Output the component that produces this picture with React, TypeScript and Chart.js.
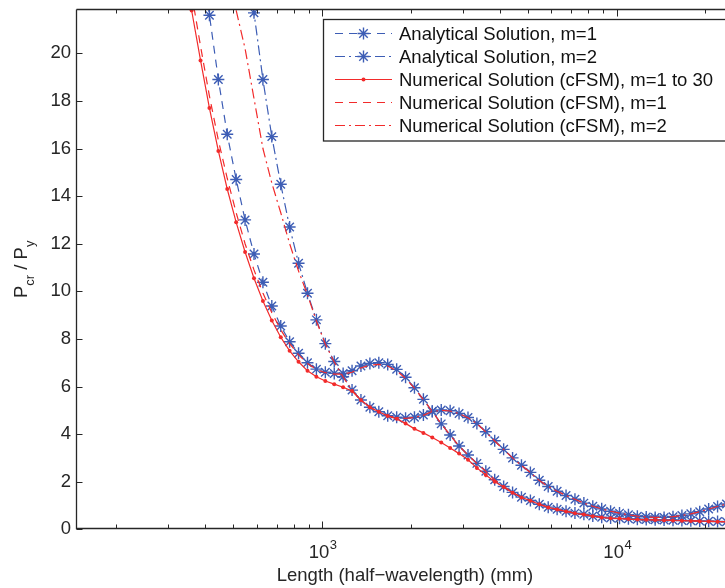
import { useEffect, useRef } from 'react';
import { Chart, registerables } from 'chart.js';

Chart.register(...registerables);

// Half-wavelength lengths (mm) – common sampling grid of the curves
const lengths = [
  360.5, 386.5, 414.3, 444.2, 476.1, 510.6, 547.4, 586.9, 629.3, 674.6,
  723.4, 775.4, 831.4, 891.6, 955.9, 1025, 1099, 1178, 1263, 1354,
  1452, 1557, 1669, 1790, 1919, 2057, 2206, 2365, 2536, 2719,
  2915, 3126, 3351, 3593, 3852, 4130, 4429, 4748, 5091, 5458,
  5852, 6274, 6727, 7212, 7733, 8291, 8889, 9530, 10217, 10954,
  11745, 12589, 13500, 14474, 15518, 16638, 17839, 19126, 20507, 21986,
  23572, 25273,
];

const analyticalM1 = [
  null, 24.4, 21.6, 18.9, 16.6, 14.7, 13.0, 11.57, 10.38, 9.38,
  8.54, 7.88, 7.4, 7.0, 6.73, 6.6, 6.55, 6.55, 6.66, 6.86,
  6.97, 7.0, 6.93, 6.72, 6.39, 5.95, 5.46, 4.95, 4.43, 3.96,
  3.5, 3.12, 2.77, 2.44, 2.08, 1.8, 1.55, 1.35, 1.21, 1.05,
  0.93, 0.84, 0.76, 0.68, 0.63, 0.56, 0.51, 0.47, 0.46, 0.44,
  0.42, 0.41, 0.4, 0.39, 0.38, 0.37, 0.36, 0.35, 0.34, 0.33,
  0.32, 0.31,
];

const analyticalM2 = [
  null, null, null, null, null, null, 24.5, 21.7, 18.9, 16.5,
  14.5, 12.7, 11.18, 9.92, 8.8, 7.8, 7.05, 6.41, 5.85, 5.43,
  5.13, 4.94, 4.77, 4.71, 4.67, 4.71, 4.8, 4.96, 5.01, 4.98,
  4.87, 4.7, 4.45, 4.1, 3.72, 3.36, 3.0, 2.69, 2.39, 2.06,
  1.8, 1.6, 1.42, 1.26, 1.1, 0.97, 0.86, 0.76, 0.68, 0.61,
  0.55, 0.52, 0.5, 0.5, 0.53, 0.58, 0.65, 0.74, 0.85, 0.96,
  1.06, 1.18,
];

const numericalAll = [
  21.8, 19.7, 17.7, 15.9, 14.3, 12.9, 11.65, 10.55, 9.59, 8.77,
  8.07, 7.5, 7.04, 6.66, 6.41, 6.23, 6.1, 5.97, 5.81, 5.43,
  5.13, 4.94, 4.76, 4.64, 4.45, 4.22, 4.05, 3.86, 3.65, 3.42,
  3.18, 2.92, 2.58, 2.28, 2.0, 1.78, 1.54, 1.34, 1.2, 1.05,
  0.92, 0.83, 0.75, 0.67, 0.62, 0.55, 0.5, 0.46, 0.45, 0.43,
  0.41, 0.4, 0.39, 0.38, 0.37, 0.36, 0.35, 0.34, 0.33, 0.32,
  0.32, 0.31,
];

const numericalM1 = [
  22.5, 20.3, 18.2, 16.35, 14.75, 13.3, 12.0, 10.9, 9.93, 9.1,
  8.38, 7.8, 7.33, 6.97, 6.72, 6.58, 6.52, 6.52, 6.6, 6.78,
  6.9, 6.93, 6.86, 6.66, 6.34, 5.93, 5.45, 4.95, 4.43, 3.96,
  3.5, 3.12, 2.77, 2.44, 2.08, 1.8, 1.55, 1.35, 1.21, 1.05,
  0.93, 0.84, 0.76, 0.68, 0.63, 0.56, 0.51, 0.47, 0.46, 0.44,
  0.42, 0.41, 0.4, 0.39, 0.38, 0.37, 0.36, 0.35, 0.34, 0.33,
  0.32, 0.31,
];

const numericalM2 = [
  null, null, null, null, 24.3, 21.8, 20.2, 18.1, 16.0, 14.55,
  13.3, 12.0, 10.85, 9.85, 8.75, 7.78, 7.03, 6.4, 5.84, 5.42,
  5.12, 4.93, 4.76, 4.7, 4.66, 4.7, 4.79, 4.95, 5.0, 4.97,
  4.86, 4.69, 4.44, 4.09, 3.71, 3.35, 3.0, 2.68, 2.38, 2.05,
  1.8, 1.6, 1.42, 1.26, 1.1, 0.97, 0.86, 0.76, 0.68, 0.61,
  0.55, 0.52, 0.5, 0.5, 0.53, 0.58, 0.65, 0.74, 0.85, 0.96,
  1.06, 1.18,
];

const seriesNames = [
  'Analytical Solution, m=1',
  'Analytical Solution, m=2',
  'Numerical Solution (cFSM), m=1 to 30',
  'Numerical Solution (cFSM), m=1',
  'Numerical Solution (cFSM), m=2',
];

const yTicks = [0, 2, 4, 6, 8, 10, 12, 14, 16, 18, 20];
const xMinorTicks = [200, 300, 400, 500, 600, 700, 800, 900, 2000, 3000, 4000, 5000, 6000, 7000, 8000, 9000, 20000];
const xMajorTicks = [1000, 10000];
const xMajorExponents = ['3', '4'];

const X_MIN = 146;
const X_MAX = 25000;
const Y_MIN = 0;
const Y_MAX = 21.85;

const BLUE = '#3d5db5';
const RED = '#f22b2b';
const AXIS = '#262626';
const FONT = '"Liberation Sans", Arial, Helvetica, sans-serif';

const DASH = [8, 6];
const DASHDOT = [10, 4, 2, 4];

const styles = [
  { color: BLUE, dash: DASH, point: 'star', radius: 6 },
  { color: BLUE, dash: DASHDOT, point: 'star', radius: 6 },
  { color: RED, dash: [] as number[], point: 'circle', radius: 2 },
  { color: RED, dash: DASH, point: 'none', radius: 0 },
  { color: RED, dash: DASHDOT, point: 'none', radius: 0 },
];

const seriesValues = [analyticalM1, analyticalM2, numericalAll, numericalM1, numericalM2];

function toPoints(vals: (number | null)[]) {
  const pts: { x: number; y: number }[] = [];
  vals.forEach((v, i) => {
    if (v !== null && v !== undefined) pts.push({ x: lengths[i], y: v });
  });
  return pts;
}

function drawMarker(ctx: CanvasRenderingContext2D, kind: string, x: number, y: number, r: number, color: string) {
  ctx.save();
  ctx.setLineDash([]);
  if (kind === 'star') {
    ctx.strokeStyle = color;
    ctx.lineWidth = 1.4;
    ctx.beginPath();
    for (let k = 0; k < 4; k++) {
      const ang = (k * Math.PI) / 4;
      const dx = Math.cos(ang) * r;
      const dy = Math.sin(ang) * r;
      ctx.moveTo(x - dx, y - dy);
      ctx.lineTo(x + dx, y + dy);
    }
    ctx.stroke();
  } else if (kind === 'circle') {
    ctx.fillStyle = color;
    ctx.beginPath();
    ctx.arc(x, y, r, 0, Math.PI * 2);
    ctx.fill();
  }
  ctx.restore();
}

const decorPlugin = {
  id: 'decor',
  afterDraw(chart: any) {
    const { ctx, chartArea: a, scales } = chart;
    const xs = scales.x;
    const ys = scales.y;
    ctx.save();
    ctx.setLineDash([]);
    ctx.strokeStyle = AXIS;
    ctx.lineWidth = 1.3;

    // axes box
    const L = Math.round(a.left) + 0.5;
    const B = Math.round(a.bottom) - 0.5;
    const T = Math.round(a.top) + 0.5;
    const R = a.right;
    ctx.beginPath();
    ctx.moveTo(L, T);
    ctx.lineTo(R, T);
    ctx.moveTo(L, T);
    ctx.lineTo(L, B);
    ctx.lineTo(R, B);
    ctx.moveTo(R, T);
    ctx.lineTo(R, B);
    ctx.stroke();

    // ticks (inward)
    ctx.lineWidth = 1;
    ctx.beginPath();
    for (const v of yTicks) {
      const py = Math.round(ys.getPixelForValue(v)) + 0.5;
      ctx.moveTo(L, py);
      ctx.lineTo(L + 6, py);
      ctx.moveTo(R, py);
      ctx.lineTo(R - 6, py);
    }
    for (const v of xMinorTicks) {
      const px = Math.round(xs.getPixelForValue(v)) + 0.5;
      ctx.moveTo(px, B);
      ctx.lineTo(px, B - 4);
      ctx.moveTo(px, T);
      ctx.lineTo(px, T + 4);
    }
    for (const v of xMajorTicks) {
      const px = Math.round(xs.getPixelForValue(v)) + 0.5;
      ctx.moveTo(px, B);
      ctx.lineTo(px, B - 7);
      ctx.moveTo(px, T);
      ctx.lineTo(px, T + 7);
    }
    ctx.stroke();

    // x tick labels 10^n
    ctx.fillStyle = AXIS;
    ctx.textBaseline = 'alphabetic';
    ctx.textAlign = 'left';
    xMajorTicks.forEach((v, i) => {
      const px = xs.getPixelForValue(v);
      ctx.font = `18.5px ${FONT}`;
      const wb = ctx.measureText('10').width;
      ctx.font = `13px ${FONT}`;
      const we = ctx.measureText(xMajorExponents[i]).width;
      const start = px - (wb + we) / 2 + 0.5;
      ctx.font = `18.5px ${FONT}`;
      ctx.fillText('10', start, 558);
      ctx.font = `13px ${FONT}`;
      ctx.fillText(xMajorExponents[i], start + wb + 0.5, 549);
    });

    // x title
    ctx.font = `18.5px ${FONT}`;
    ctx.textAlign = 'center';
    ctx.fillText('Length (half\u2212wavelength) (mm)', (a.left + a.right) / 2, 581);

    // y title P_cr / P_y
    ctx.save();
    ctx.translate(27, (a.top + a.bottom) / 2);
    ctx.rotate(-Math.PI / 2);
    ctx.textAlign = 'left';
    const parts: [string, number, number][] = [
      ['P', 18.5, 0],
      ['cr', 13, 7],
      [' / P', 18.5, 0],
      ['y', 13, 7],
    ];
    let total = 0;
    const widths = parts.map(([t, s]) => {
      ctx.font = `${s}px ${FONT}`;
      const w = ctx.measureText(t).width;
      total += w;
      return w;
    });
    let cx = -total / 2;
    parts.forEach(([t, s, dy], i) => {
      ctx.font = `${s}px ${FONT}`;
      ctx.fillText(t, cx, dy);
      cx += widths[i];
    });
    ctx.restore();

    // legend
    const boxX = 323.5;
    const boxY = 19.5;
    const boxH = 121.5;
    ctx.fillStyle = '#ffffff';
    ctx.fillRect(boxX, boxY, 500, boxH);
    ctx.strokeStyle = AXIS;
    ctx.lineWidth = 1.3;
    ctx.strokeRect(boxX, boxY, 500, boxH);
    ctx.font = `18.5px ${FONT}`;
    ctx.textAlign = 'left';
    seriesNames.forEach((name, i) => {
      const base = 40 + 23 * i;
      const ly = base - 6.5;
      const st = styles[i];
      ctx.save();
      ctx.strokeStyle = st.color;
      ctx.lineWidth = 1.2;
      ctx.setLineDash(st.dash);
      ctx.beginPath();
      ctx.moveTo(335, ly);
      ctx.lineTo(392, ly);
      ctx.stroke();
      ctx.restore();
      if (st.point !== 'none') drawMarker(ctx, st.point, 363.5, ly, st.radius, st.color);
      ctx.fillStyle = '#111';
      ctx.fillText(name, 399, base);
    });

    ctx.restore();
  },
};

export default function App() {
  const ref = useRef<HTMLCanvasElement | null>(null);

  useEffect(() => {
    const canvas = ref.current;
    if (!canvas) return;
    const datasets = seriesValues.map((vals, i) => {
      const st = styles[i];
      return {
        label: seriesNames[i],
        data: toPoints(vals),
        borderColor: st.color,
        backgroundColor: st.color,
        borderWidth: 1.2,
        borderDash: st.dash,
        pointStyle: st.point === 'none' ? 'circle' : st.point,
        pointRadius: st.radius,
        pointBorderColor: st.color,
        pointBackgroundColor: st.point === 'circle' ? st.color : 'rgba(0,0,0,0)',
        pointBorderWidth: st.point === 'star' ? 1.4 : 0,
        tension: 0,
        fill: false,
        clip: 0,
        order: 5 - i,
      };
    });

    const chart = new Chart(canvas, {
      type: 'line',
      data: { datasets: datasets as any },
      options: {
        responsive: false,
        devicePixelRatio: 1,
        animation: false,
        layout: { padding: { left: 0, top: 9.3, right: 36, bottom: 0 } },
        plugins: {
          legend: { display: false },
          tooltip: { enabled: false },
          title: { display: false },
        },
        events: [],
        scales: {
          x: {
            type: 'logarithmic',
            min: X_MIN,
            max: X_MAX,
            grid: { display: false, drawTicks: false },
            border: { display: false },
            ticks: { display: false },
            afterFit: (s: any) => {
              s.height = 58.7;
              s.paddingLeft = 0;
              s.paddingRight = 0;
              s.paddingTop = 0;
              s.paddingBottom = 0;
            },
          },
          y: {
            type: 'linear',
            min: Y_MIN,
            max: Y_MAX,
            grid: { display: false, drawTicks: false },
            border: { display: false },
            ticks: {
              display: true,
              padding: 5,
              color: AXIS,
              font: { family: FONT, size: 18.5 },
            },
            afterBuildTicks: (s: any) => {
              s.ticks = yTicks.map((v) => ({ value: v }));
            },
            afterFit: (s: any) => {
              s.width = 76;
              s.paddingTop = 0;
              s.paddingBottom = 0;
              s.paddingLeft = 0;
              s.paddingRight = 0;
            },
          },
        },
      } as any,
      plugins: [decorPlugin],
    });
    return () => chart.destroy();
  }, []);

  return (
    <div
      style={{
        position: 'fixed',
        left: 0,
        top: 0,
        width: 725,
        height: 588,
        overflow: 'hidden',
        background: '#ffffff',
      }}
    >
      <canvas ref={ref} width={770} height={588} style={{ display: 'block', width: 770, height: 588 }} />
    </div>
  );
}
